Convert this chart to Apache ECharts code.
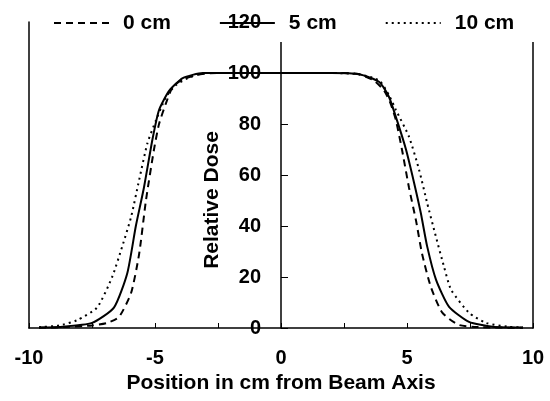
<!DOCTYPE html>
<html>
<head>
<meta charset="utf-8">
<script src="https://cdn.jsdelivr.net/npm/echarts@6/dist/echarts.min.js"></script>
<style>html,body{margin:0;padding:0;background:#fff;}#c{width:550px;height:401px;}</style>
</head>
<body>
<div id="c"></div>
<script>
var seriesNames = ['0 cm', '5 cm', '10 cm'];
var xTickLabels = [-10, -5, 0, 5, 10];
var yTickLabels = [0, 20, 40, 60, 80, 100, 120];

var x0cm = [-9.6, -8.5, -7.5, -6.9, -6.43, -5.95, -5.63, -5.36, -5.04, -4.84, -4.57, -4.3, -3.9, -3.2, -2.5, -1, 0, 1, 2.5, 3.1, 3.7, 4.1, 4.35, 4.56, 4.8, 5.08, 5.36, 5.6, 5.95, 6.4, 7.06, 8, 9.6];
var y0cm = [0.1, 0.4, 1, 2, 4.3, 13.7, 29, 50, 70, 80, 88, 94.5, 97.5, 99.5, 100, 100, 100, 100, 100, 99.5, 97, 93, 88, 81.5, 70, 55, 42, 29, 16, 6, 1.2, 0.3, 0.1];

var x5cm = [-9.6, -8.8, -7.5, -6.63, -6.1, -5.76, -5.44, -5.1, -4.84, -4.44, -3.9, -3.1, -2, -1, 0, 1, 2, 3.1, 3.9, 4.29, 4.6, 4.96, 5.28, 5.55, 5.8, 6.15, 6.67, 7.46, 8.4, 9.6];
var y5cm = [0.2, 0.4, 2, 8, 21.5, 40, 55, 74, 85.5, 93, 98, 100, 100, 100, 100, 100, 100, 99.5, 96.5, 90.5, 81.5, 70, 57, 45, 32, 19, 8.3, 2.4, 0.5, 0.2];

var x10cm = [-9.6, -8.8, -8.1, -7.3, -6.7, -6.3, -5.95, -5.63, -5.3, -4.96, -4.57, -4.2, -3.7, -3.0, -2, 0, 2, 3.1, 3.9, 4.3, 4.56, 5.08, 5.48, 5.8, 6.15, 6.47, 6.75, 7.46, 8.13, 9, 9.6];
var y10cm = [0.3, 1, 3, 8, 20, 32, 43.5, 58, 72.5, 81.5, 90.5, 95, 98, 100, 100, 100, 100, 99.5, 97, 91, 85.5, 75, 62, 49, 35.7, 24, 15, 6, 2, 0.5, 0.2];

function pairs(xs, ys) { return xs.map(function (x, i) { return [x, ys[i]]; }); }

var FONT = 'Liberation Sans, Arial, sans-serif';
var chart = echarts.init(document.getElementById('c'), null, {renderer: 'canvas'});
var gridLeft = 29, gridRight = 17;
var zeroOffset = -(550 - gridLeft - gridRight) / 2;

var yBase = {type: 'value', min: 0, max: 120, interval: 20, splitLine: {show: false}};

chart.setOption({
  animation: false,
  backgroundColor: '#fff',
  grid: {left: gridLeft, right: gridRight, top: 22, bottom: 73, containLabel: false},
  legend: {
    left: 40, top: 4,
    padding: [8, 30, 8, 13],
    backgroundColor: '#fff',
    z: 5,
    itemWidth: 55, itemHeight: 10, itemGap: 48,
    itemStyle: {opacity: 0},
    data: seriesNames,
    textStyle: {fontFamily: FONT, fontWeight: 'bold', fontSize: 21, color: '#000', lineHeight: 22, padding: [0, 0, 0, 9]}
  },
  xAxis: {
    type: 'value', min: -10, max: 10, interval: 2.5,
    axisLine: {onZero: false, lineStyle: {color: '#000', width: 1.5}},
    axisTick: {inside: true, length: 5, lineStyle: {color: '#000', width: 1}},
    splitLine: {show: false},
    axisLabel: {
      margin: 20, fontFamily: FONT, fontWeight: 'bold', fontSize: 20, color: '#000',
      formatter: function (v) { return xTickLabels.indexOf(v) >= 0 ? String(v) : ''; }
    },
    name: 'Position in cm from Beam Axis', nameLocation: 'middle', nameGap: 45,
    nameTextStyle: {fontFamily: FONT, fontWeight: 'bold', fontSize: 21, color: '#000'}
  },
  yAxis: [
    Object.assign({}, yBase, {
      position: 'left', offset: zeroOffset, z: 2,
      axisLine: {show: true, onZero: false, lineStyle: {color: '#000', width: 1.5}},
      axisTick: {show: true, inside: true, length: 7, lineStyle: {color: '#000'}},
      axisLabel: {show: false}
    }),
    Object.assign({}, yBase, {
      position: 'left', z: 2,
      axisLine: {show: true, onZero: false, lineStyle: {color: '#000', width: 1.5}},
      axisTick: {show: false}, axisLabel: {show: false}
    }),
    Object.assign({}, yBase, {
      position: 'right', z: 2,
      axisLine: {show: true, onZero: false, lineStyle: {color: '#000', width: 1.5}},
      axisTick: {show: false}, axisLabel: {show: false}
    }),
    Object.assign({}, yBase, {
      position: 'left', offset: zeroOffset, z: 10,
      axisLine: {show: false, onZero: false},
      axisTick: {show: false},
      axisLabel: {
        show: true, margin: 20, fontFamily: FONT, fontWeight: 'bold', fontSize: 20, color: '#000',
        formatter: function (v) { return yTickLabels.indexOf(v) >= 0 ? String(v) : ''; }
      }
    })
  ],
  graphic: [{
    type: 'text', x: 212, y: 200, rotation: Math.PI / 2, z: 10,
    style: {text: 'Relative Dose', fontFamily: FONT, fontWeight: 'bold', fontSize: 21, fill: '#000', textAlign: 'center', textVerticalAlign: 'middle'}
  }],
  series: [
    {name: seriesNames[0], type: 'line', yAxisIndex: 0, symbol: 'none', smooth: 0.2, data: pairs(x0cm, y0cm),
     lineStyle: {color: '#000', width: 2, type: [7, 5]}, itemStyle: {color: '#000'}},
    {name: seriesNames[1], type: 'line', yAxisIndex: 0, symbol: 'none', smooth: 0.2, data: pairs(x5cm, y5cm),
     lineStyle: {color: '#000', width: 2, type: 'solid'}, itemStyle: {color: '#000'}},
    {name: seriesNames[2], type: 'line', yAxisIndex: 0, symbol: 'none', smooth: 0.2, data: pairs(x10cm, y10cm),
     lineStyle: {color: '#000', width: 2, type: [2, 4]}, itemStyle: {color: '#000'}}
  ]
});
</script>
</body>
</html>
